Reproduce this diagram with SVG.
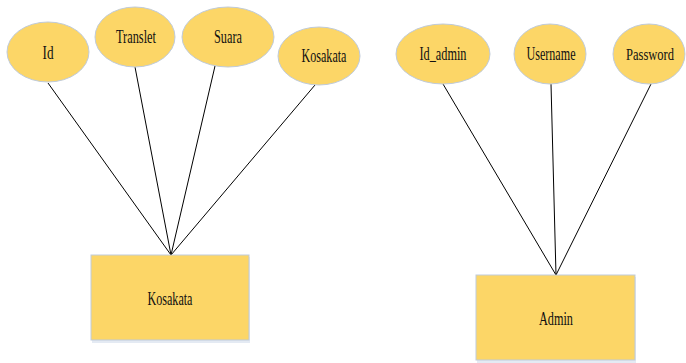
<svg xmlns="http://www.w3.org/2000/svg" width="686" height="363" viewBox="0 0 686 363">
<style>
.attr ellipse{fill:#FCD667;stroke:#BFCBDB;stroke-width:1}
.ent rect{fill:#FCD667;stroke:#BFCBDB;stroke-width:1}
text{font-family:"Liberation Serif","Times New Roman",serif;font-size:18px;fill:#111;text-anchor:middle}
.conn line{stroke:#000;stroke-width:1}
</style>
<rect width="686" height="363" fill="#fff"/>
<g class="conn" id="connectors">
<line x1="48" y1="83" x2="171" y2="255"/>
<line x1="135" y1="67" x2="171" y2="255"/>
<line x1="215" y1="66" x2="171" y2="255"/>
<line x1="315" y1="85" x2="171" y2="255"/>
<line x1="443" y1="84" x2="556" y2="275"/>
<line x1="551" y1="84" x2="556" y2="275"/>
<line x1="651" y1="84" x2="556" y2="275"/>
</g>
<g class="attr" id="attr-id"><ellipse cx="48" cy="52" rx="41" ry="30"/><text x="48" y="59" textLength="11" lengthAdjust="spacingAndGlyphs">Id</text></g>
<g class="attr" id="attr-translet"><ellipse cx="135" cy="37" rx="40" ry="30"/><text x="136" y="43" textLength="40" lengthAdjust="spacingAndGlyphs">Translet</text></g>
<g class="attr" id="attr-suara"><ellipse cx="228" cy="37" rx="46" ry="30"/><text x="228" y="43" textLength="28" lengthAdjust="spacingAndGlyphs">Suara</text></g>
<g class="attr" id="attr-kosakata"><ellipse cx="319" cy="56" rx="41" ry="29"/><text x="324" y="62" textLength="45" lengthAdjust="spacingAndGlyphs">Kosakata</text></g>
<g class="attr" id="attr-idadmin"><ellipse cx="443" cy="54" rx="47" ry="30"/><text x="443" y="60" textLength="47" lengthAdjust="spacingAndGlyphs">Id_admin</text></g>
<g class="attr" id="attr-username"><ellipse cx="550" cy="54" rx="36" ry="30"/><text x="551" y="60" textLength="49" lengthAdjust="spacingAndGlyphs">Username</text></g>
<g class="attr" id="attr-password"><ellipse cx="649" cy="54" rx="36" ry="30"/><text x="650" y="60" style="font-size:16px" textLength="48" lengthAdjust="spacingAndGlyphs">Password</text></g>
<g class="ent" id="ent-kosakata"><rect x="92" y="257" width="158" height="86" style="fill:#E4EAF3;stroke:none"/><rect x="91" y="255" width="158" height="85"/><text x="170" y="305" textLength="45" lengthAdjust="spacingAndGlyphs">Kosakata</text></g>
<g class="ent" id="ent-admin"><rect x="477" y="277" width="159" height="86" style="fill:#E4EAF3;stroke:none"/><rect x="476" y="275" width="159" height="85"/><text x="556" y="325" textLength="34" lengthAdjust="spacingAndGlyphs">Admin</text></g>
</svg>
